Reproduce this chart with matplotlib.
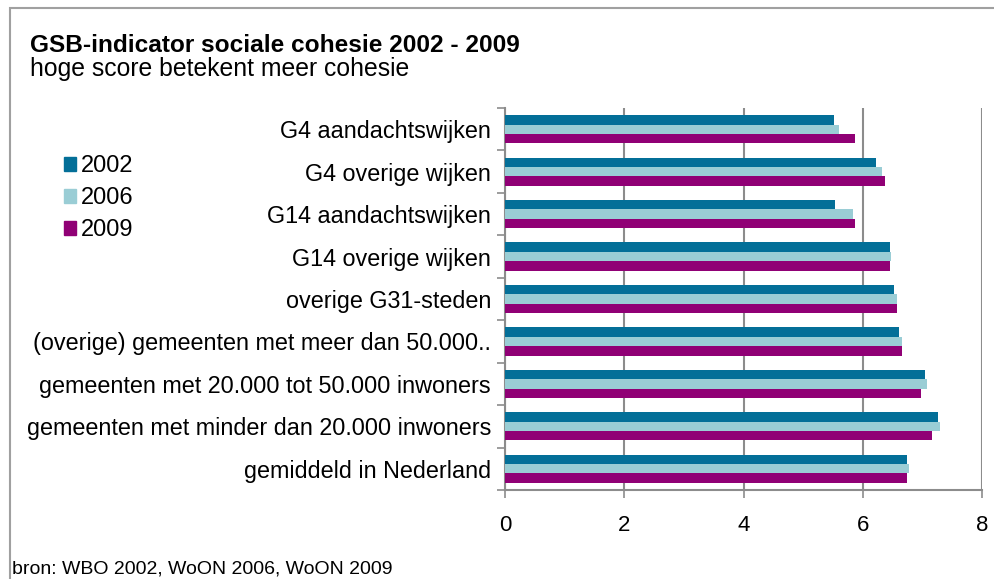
import numpy as np
import matplotlib.pyplot as plt
from matplotlib.patches import Rectangle, Patch

plt.rcParams['font.family'] = ['Liberation Sans', 'DejaVu Sans']

categories = [
    "G4 aandachtswijken",
    "G4 overige wijken",
    "G14 aandachtswijken",
    "G14 overige wijken",
    "overige G31-steden",
    "(overige) gemeenten met meer dan 50.000..",
    "gemeenten met 20.000 tot 50.000 inwoners",
    "gemeenten met minder dan 20.000 inwoners",
    "gemiddeld in Nederland",
]
years = ["2002", "2006", "2009"]
v2002 = [5.51, 6.22, 5.53, 6.45, 6.52, 6.61, 7.04, 7.26, 6.74]
v2006 = [5.60, 6.32, 5.83, 6.48, 6.58, 6.65, 7.07, 7.29, 6.78]
v2009 = [5.87, 6.38, 5.87, 6.45, 6.58, 6.65, 6.97, 7.16, 6.74]
colors = ['#036f98', '#9acdd5', '#900075']

W, H = 994, 579
fig = plt.figure(figsize=(W / 100, H / 100), dpi=100)

# outer chart frame (runs off right and bottom edge)
fig.patches.append(Rectangle((10 / W, -0.05), 1.1, 1.05 - 8 / H,
                             transform=fig.transFigure, fill=False,
                             edgecolor='#a0a0a0', linewidth=1.5))

ax = fig.add_axes([505 / W, 1 - 490 / H, (982 - 505) / W, (490 - 108) / H])

n = len(categories)
y = np.arange(n)
bh = 0.222
for i, (vals, c) in enumerate(zip([v2002, v2006, v2009], colors)):
    ax.barh(y - bh + i * bh, vals, height=bh, color=c, label=years[i],
            zorder=3)

ax.set_xlim(0, 8)
ax.set_ylim(n - 0.5, -0.5)
ax.set_xticks([0, 2, 4, 6, 8])
ax.set_xticklabels(['0', '2', '4', '6', '8'], fontsize=16)
ax.set_yticks(y)
ax.set_yticklabels(categories, fontsize=16.8)
ax.set_yticks(np.arange(n + 1) - 0.5, minor=True)
ax.tick_params(axis='y', which='major', length=0, pad=10)
ax.tick_params(axis='y', which='minor', length=6, color='#8c8c8c', width=1.2)
ax.tick_params(axis='x', length=6, color='#8c8c8c', width=1.2, pad=12)
ax.xaxis.grid(True, color='#8c8c8c', linewidth=1.5, zorder=0)
for s in ['top', 'right']:
    ax.spines[s].set_visible(False)
for s in ['left', 'bottom']:
    ax.spines[s].set_color('#8c8c8c')
    ax.spines[s].set_linewidth(1.5)

handles = [Patch(color=c) for c in colors]
fig.legend(handles, years, loc='upper left', bbox_to_anchor=(55 / W, 1 - 146 / H),
           frameon=False, fontsize=17, handlelength=0.5, handleheight=0.5,
           handletextpad=0.2, labelspacing=0.42, borderaxespad=0)

fig.text(30 / W, 1 - 52 / H, "GSB-indicator sociale cohesie 2002 - 2009",
         fontsize=17.6, fontweight='bold', va='baseline')
fig.text(30 / W, 1 - 76 / H, "hoge score betekent meer cohesie",
         fontsize=17.8, va='baseline')
fig.text(12 / W, 1 - 574 / H, "bron: WBO 2002, WoON 2006, WoON 2009",
         fontsize=14, va='baseline')

fig.savefig('out.png', dpi=100)
